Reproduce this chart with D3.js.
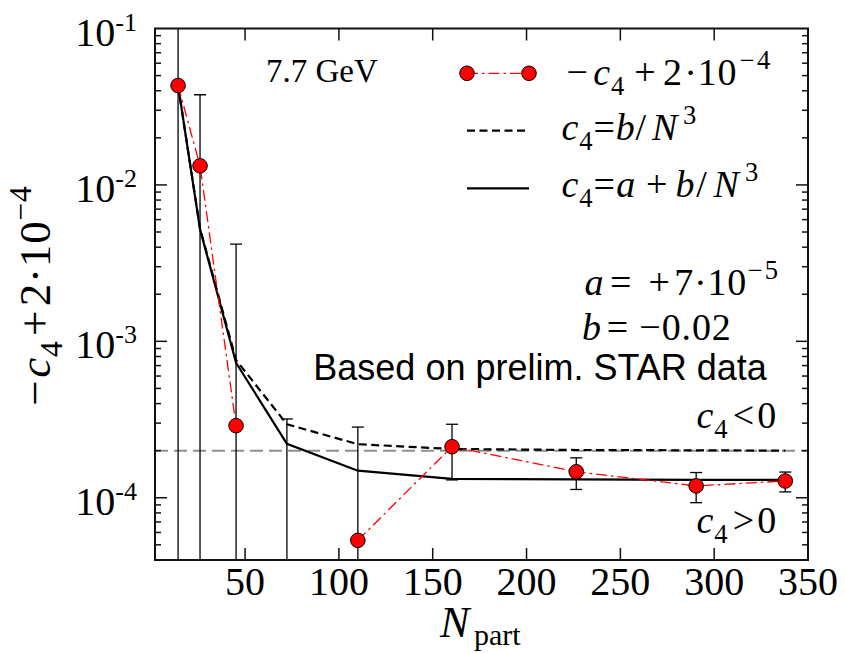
<!DOCTYPE html>
<html><head><meta charset="utf-8">
<script src="https://cdn.jsdelivr.net/npm/d3@7"></script>
<style>html,body{margin:0;padding:0;background:#fff;} svg{display:block;}</style>
</head><body>
<svg id="chart" width="845" height="653" font-family="Liberation Serif, Times New Roman, serif"></svg>
<script>
// Centrality classes: mean number of participants
const nPart = [14.3, 26.0, 45.2, 72.3, 110.1, 160.3, 226.5, 290.4, 337.9];
// Measured -c4 + 2e-4 (null = negative, below the log axis)
const shifted = [0.0432, 0.01325, 2.89e-4, null, 5.34e-5, 2.12e-4, 1.466e-4, 1.19e-4, 1.28e-4];
// Upper / lower ends of the error bars (0 = negative, runs off the bottom)
const errHigh = [0.2, 0.0377, 4.18e-3, 3.19e-4, 2.83e-4, 2.95e-4, 1.80e-4, 1.45e-4, 1.46e-4];
const errLow  = [0, 0, 0, 0, 0, 1.30e-4, 1.13e-4, 9.3e-5, 1.09e-4];
// Fit c4 = b/N^3, shown as -c4 + 2e-4
const fitB  = [0.0432, 5.27e-3, 7.6e-4, 2.95e-4, 2.20e-4, 2.05e-4, 2.02e-4, 2.01e-4, 2.0e-4];
// Fit c4 = a + b/N^3, shown as -c4 + 2e-4
const fitAB = [0.0432, 5.2e-3, 7.3e-4, 2.21e-4, 1.49e-4, 1.32e-4, 1.31e-4, 1.30e-4, 1.30e-4];
// Sign boundary c4 = 0
const signLine = 2e-4;

const xTicks = [50, 100, 150, 200, 250, 300, 350];
const yTicks = [1e-4, 1e-3, 1e-2, 1e-1];
const yTickExp = ["-4", "-3", "-2", "-1"];
const xDomain = [2, 350];
const yDomain = [4e-5, 0.1];

const svg = d3.select("#chart");
const L = 155, R = 808, T = 28.5, B = 560;
const x = d3.scaleLinear().domain(xDomain).range([L, R]);
const y = d3.scaleLog().domain(yDomain).range([B, T]);
const yv = v => (v == null || v <= 0) ? B + 5 : y(v);

svg.append("defs").append("clipPath").attr("id", "plot")
  .append("rect").attr("x", L).attr("y", T).attr("width", R - L).attr("height", B - T);

const plot = svg.append("g").attr("clip-path", "url(#plot)");

// c4 = 0 boundary
plot.append("line").attr("x1", L).attr("x2", R).attr("y1", y(signLine)).attr("y2", y(signLine))
  .attr("stroke", "#8f8f8f").attr("stroke-width", 2).attr("stroke-dasharray", "13,6");

// error bars
const idx = d3.range(nPart.length);
const cap = 6;
const eb = plot.append("g").attr("stroke", "#000").attr("stroke-width", 1.3);
idx.forEach(i => {
  const cx = x(nPart[i]);
  eb.append("line").attr("x1", cx).attr("x2", cx).attr("y1", yv(errHigh[i])).attr("y2", yv(errLow[i]));
  eb.append("line").attr("x1", cx - cap).attr("x2", cx + cap).attr("y1", yv(errHigh[i])).attr("y2", yv(errHigh[i]));
  if (errLow[i] > 0)
    eb.append("line").attr("x1", cx - cap).attr("x2", cx + cap).attr("y1", yv(errLow[i])).attr("y2", yv(errLow[i]));
});

// fits
const lineGen = arr => d3.line().x((d, i) => x(nPart[i])).y(d => y(d))(arr);
plot.append("path").attr("d", lineGen(fitB)).attr("fill", "none").attr("stroke", "#000")
  .attr("stroke-width", 2.2).attr("stroke-dasharray", "8,4.5");
plot.append("path").attr("d", lineGen(fitAB)).attr("fill", "none").attr("stroke", "#000")
  .attr("stroke-width", 2.2);

// data connection (dash-dot), broken where the value is off-scale
const dataLine = d3.line().defined(d => d != null && d > 0).x((d, i) => x(nPart[i])).y(d => y(d));
plot.append("path").attr("d", dataLine(shifted)).attr("fill", "none").attr("stroke", "#ff0000")
  .attr("stroke-width", 1.3).attr("stroke-dasharray", "11,4,2.5,4");

plot.append("g").selectAll("circle").data(idx.filter(i => shifted[i] != null)).join("circle")
  .attr("cx", i => x(nPart[i])).attr("cy", i => y(shifted[i])).attr("r", 7.3)
  .attr("fill", "#ff0000").attr("stroke", "#000").attr("stroke-width", 1);

// frame and ticks
const ax = svg.append("g").attr("stroke", "#111");
ax.append("rect").attr("x", L).attr("y", T).attr("width", R - L).attr("height", B - T)
  .attr("fill", "none").attr("stroke-width", 2);
const tk = ax.append("g").attr("stroke-width", 1.5);
xTicks.filter(v => x(v) < R - 1).forEach(v => {
  tk.append("line").attr("x1", x(v)).attr("x2", x(v)).attr("y1", B).attr("y2", B - 12);
  tk.append("line").attr("x1", x(v)).attr("x2", x(v)).attr("y1", T).attr("y2", T + 12);
});
const minor = [];
for (let e = -5; e <= -2; e++) for (let k = 2; k <= 9; k++) {
  const v = k * Math.pow(10, e);
  if (v > yDomain[0] * 1.001 && v < yDomain[1]) minor.push(v);
}
yTicks.filter(v => y(v) > T + 1).forEach(v => {
  tk.append("line").attr("x1", L).attr("x2", L + 12).attr("y1", y(v)).attr("y2", y(v));
  tk.append("line").attr("x1", R).attr("x2", R - 12).attr("y1", y(v)).attr("y2", y(v));
});
minor.forEach(v => {
  tk.append("line").attr("x1", L).attr("x2", L + 6).attr("y1", y(v)).attr("y2", y(v));
  tk.append("line").attr("x1", R).attr("x2", R - 6).attr("y1", y(v)).attr("y2", y(v));
});

// tick labels
svg.append("g").selectAll("text").data(xTicks).join("text")
  .attr("x", d => x(d)).attr("y", B + 35).attr("text-anchor", "middle")
  .attr("font-size", 40).text(d => d);
yTicks.forEach((v, i) => {
  const t = svg.append("text").attr("x", 137).attr("y", y(v) + 17).attr("text-anchor", "end").attr("font-size", 40);
  t.append("tspan").text("10");
  t.append("tspan").attr("font-size", 26).attr("dy", -15).text(yTickExp[i]);
});

// formula typesetting: one text element, each glyph centred near its offset along the line,
// nudged right when it would run into the previous glyph
// style flags: i = italic, b = subscript, p = superscript
function formula(x0, y0, size, glyphs, rot) {
  const t = svg.append("text").attr("text-anchor", "middle").attr("font-size", size)
    .attr("transform", `translate(${x0},${y0})` + (rot ? " rotate(-90)" : ""));
  let prevEnd = -Infinity;
  glyphs.forEach(([s, off, st = ""]) => {
    const small = st.includes("b") || st.includes("p");
    const dy = st.includes("b") ? size * 0.26 : st.includes("p") ? -size * 0.42 : 0;
    const sp = t.append("tspan").attr("x", off).attr("y", dy).text(s);
    if (small) sp.attr("font-size", size * 0.7);
    if (st.includes("i")) sp.attr("font-style", "italic");
    const w = sp.node().getComputedTextLength();
    let cx = off;
    if (cx - w / 2 < prevEnd + 0.8) cx = prevEnd + 0.8 + w / 2;
    sp.attr("x", cx);
    prevEnd = cx + w / 2;
  });
  return t;
}
const M = "\u2212", DOT = "\u00b7";
const label1 = [[M, 15.5], ["c", 40, "i"], ["4", 55.5, "b"], ["+", 83.3], ["2", 110.7], [DOT, 129],
  ["1", 143.5], ["0", 163], [M, 185, "p"], ["4", 202, "p"]];

// axis titles
formula(50, 409, 45, label1.map(([s, o, st]) => [s, o * 1.03, st]), true);
svg.append("text").attr("x", 440).attr("y", 637).attr("font-size", 44).attr("font-style", "italic").text("N");
svg.append("text").attr("x", 474).attr("y", 645).attr("font-size", 30).text("part");

// legend
const lg = svg.append("g");
lg.append("line").attr("x1", 467).attr("x2", 529).attr("y1", 73.3).attr("y2", 73.3)
  .attr("stroke", "#ff0000").attr("stroke-width", 1.3).attr("stroke-dasharray", "11,4,2.5,4");
[467, 529].forEach(cx => lg.append("circle").attr("cx", cx).attr("cy", 73.3).attr("r", 7.3)
  .attr("fill", "#ff0000").attr("stroke", "#000"));
lg.append("line").attr("x1", 467).attr("x2", 529).attr("y1", 130.7).attr("y2", 130.7)
  .attr("stroke", "#000").attr("stroke-width", 2.2).attr("stroke-dasharray", "8,4.5");
lg.append("line").attr("x1", 467).attr("x2", 529).attr("y1", 188.3).attr("y2", 188.3)
  .attr("stroke", "#000").attr("stroke-width", 2.2);
formula(561.7, 85, 38, label1);
formula(561.7, 140, 38, [["c", 8.3, "i"], ["4", 21, "b"], ["=", 42.5], ["b", 62.5, "i"], ["/", 78.5],
  ["N", 103, "i"], ["3", 128, "p"]]);
formula(561.7, 197, 38, [["c", 8.3, "i"], ["4", 21, "b"], ["=", 42.5], ["a", 64, "i"], ["+", 95],
  ["b", 123.3, "i"], ["/", 139.8], ["N", 164.5, "i"], ["3", 190, "p"]]);

// annotations
svg.append("text").attr("x", 266).attr("y", 82.3).attr("font-size", 33).text("7.7 GeV");
formula(583.3, 295, 38, [["a", 10.8, "i"], ["=", 37.5], ["+", 75.8], ["7", 100.5], [DOT, 115.8],
  ["1", 131], ["0", 151], [M, 171, "p"], ["5", 188, "p"]]);
formula(583.3, 340, 38, [["b", 8.3, "i"], ["=", 34.2], [M, 66.7], ["0", 88], [".", 102.5],
  ["0", 116], ["2", 135]]);
svg.append("text").attr("x", 313.3).attr("y", 380).attr("font-size", 36)
  .attr("font-family", "Liberation Sans, Arial, sans-serif").text("Based on prelim. STAR data");
formula(696.7, 428, 38, [["c", 8.3, "i"], ["4", 22.5, "b"], ["<", 46.7], ["0", 70]]);
formula(696.7, 533, 38, [["c", 8.3, "i"], ["4", 22.5, "b"], [">", 46.7], ["0", 70]]);
</script>
</body></html>
